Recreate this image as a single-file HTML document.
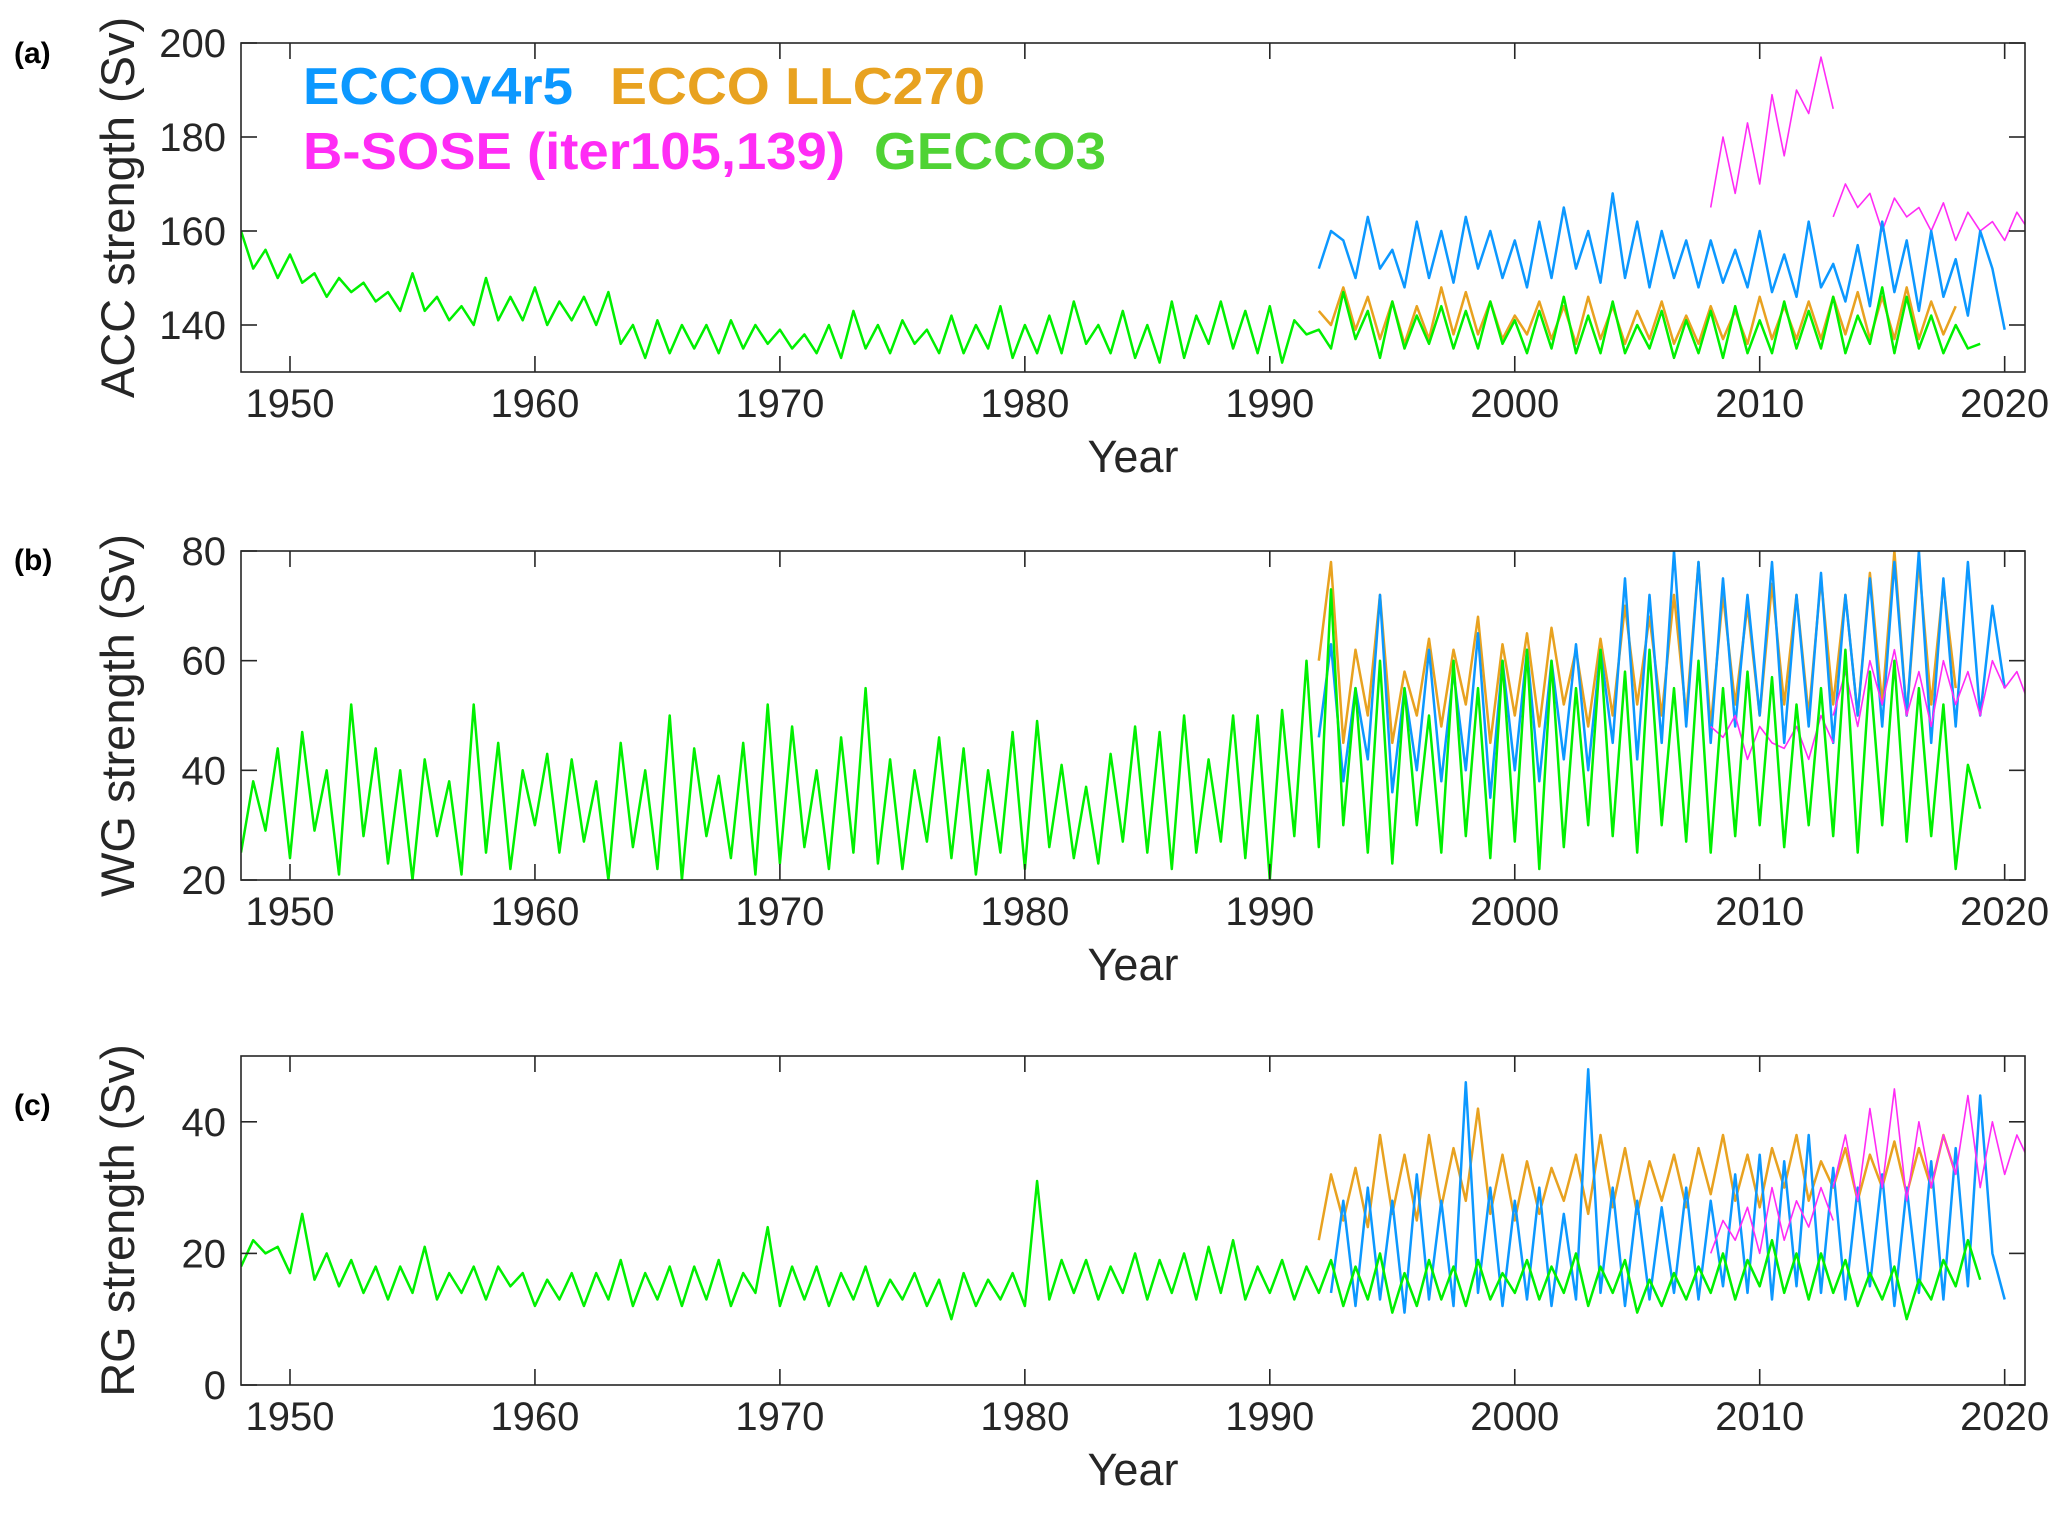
<!DOCTYPE html>
<html><head><meta charset="utf-8">
<style>
html,body{margin:0;padding:0;background:#fff;}
svg{display:block;font-family:"Liberation Sans",Arial,sans-serif;}
</style></head>
<body>
<svg id="chart" width="2067" height="1520" viewBox="0 0 2067 1520" xmlns="http://www.w3.org/2000/svg"></svg>
<script>
// ---------- data (half-year resolution) ----------
const xTicks = [1950,1960,1970,1980,1990,2000,2010,2020];
const accTicks = [140,160,180,200];
const wgTicks = [20,40,60,80];
const rgTicks = [0,20,40];

const accGeccoStart = 1948.0;
const accGecco = [160,152,156,150,155,149,151,146,150,147,149,145,147,143,151,143,146,141,144,140,150,141,146,141,148,140,145,141,146,140,147,136,140,133,141,134,140,135,140,134,141,135,140,136,139,135,138,134,140,133,143,135,140,134,141,136,139,134,142,134,140,135,144,133,140,134,142,134,145,136,140,134,143,133,140,132,145,133,142,136,145,135,143,134,144,132,141,138,139,135,147,137,143,133,145,135,142,136,144,135,143,135,145,136,141,134,143,135,146,134,142,134,145,134,140,135,143,133,141,134,143,133,144,134,141,134,145,135,143,135,146,134,142,136,148,134,146,135,142,134,140,135,136];
const accEccoStart = 1992.0;
const accEcco = [152,160,158,150,163,152,156,148,162,150,160,149,163,152,160,150,158,148,162,150,165,152,160,149,168,150,162,148,160,150,158,148,158,149,156,148,160,147,155,146,162,148,153,145,157,144,162,147,158,143,160,146,154,142,160,152,139];
const accLlcStart = 1992.0;
const accLlc = [143,140,148,139,146,137,145,136,144,137,148,138,147,138,145,137,142,138,145,137,144,136,146,137,144,136,143,137,145,136,142,136,144,137,143,136,146,137,144,137,145,137,146,138,147,137,146,137,148,137,145,138,144];
const accSose105Start = 2008.0;
const accSose105 = [165,180,168,183,170,189,176,190,185,197,186];
const accSose139Start = 2013.0;
const accSose139 = [163,170,165,168,160,167,163,165,160,166,158,164,160,162,158,164,160];

const wgGeccoStart = 1948.0;
const wgGecco = [25,38,29,44,24,47,29,40,21,52,28,44,23,40,20,42,28,38,21,52,25,45,22,40,30,43,25,42,27,38,20,45,26,40,22,50,20,44,28,39,24,45,21,52,23,48,26,40,22,46,25,55,23,42,22,40,27,46,24,44,21,40,25,47,22,49,26,41,24,37,23,43,27,48,25,47,22,50,25,42,27,50,24,50,20,51,28,60,26,73,30,55,25,60,23,55,30,50,25,60,28,55,24,60,27,62,22,60,26,55,30,62,28,58,25,62,30,55,27,60,25,55,28,58,30,57,26,52,30,55,28,62,25,58,30,60,27,55,28,52,22,41,33];
const wgEccoStart = 1992.0;
const wgEcco = [46,63,38,55,42,72,36,55,40,62,38,58,40,65,35,60,40,62,38,60,42,63,40,62,45,75,42,72,45,80,48,78,45,75,48,72,50,78,45,72,48,76,45,72,50,75,48,78,50,80,45,75,48,78,50,70,55];
const wgLlcStart = 1992.0;
const wgLlc = [60,78,45,62,50,72,45,58,50,64,48,62,52,68,45,63,50,65,48,66,52,62,48,64,50,70,52,68,50,72,50,78,48,72,52,70,50,74,52,72,50,75,52,72,50,76,52,80,50,78,52,74,55];
const wgSose105Start = 2008.0;
const wgSose105 = [48,46,50,42,48,45,44,48,42,50,45];
const wgSose139Start = 2013.0;
const wgSose139 = [50,58,48,60,52,62,50,58,48,60,52,58,50,60,55,58,52];

const rgGeccoStart = 1948.0;
const rgGecco = [18,22,20,21,17,26,16,20,15,19,14,18,13,18,14,21,13,17,14,18,13,18,15,17,12,16,13,17,12,17,13,19,12,17,13,18,12,18,13,19,12,17,14,24,12,18,13,18,12,17,13,18,12,16,13,17,12,16,10,17,12,16,13,17,12,31,13,19,14,19,13,18,14,20,13,19,14,20,13,21,14,22,13,18,14,19,13,18,14,19,12,18,13,20,11,17,12,19,13,18,12,19,13,17,14,19,13,18,14,20,12,18,14,19,11,16,12,17,13,18,14,20,13,19,15,22,14,20,13,20,14,19,12,17,13,18,10,16,13,19,15,22,16];
const rgEccoStart = 1992.5;
const rgEcco = [14,28,12,30,13,28,11,32,13,28,12,46,14,30,12,28,13,30,12,26,13,48,14,30,12,28,13,27,14,30,13,28,15,32,14,35,13,34,15,38,14,33,13,30,15,32,12,30,14,34,13,36,15,44,20,13];
const rgLlcStart = 1992.0;
const rgLlc = [22,32,25,33,24,38,26,35,25,38,27,36,28,42,26,35,25,34,26,33,28,35,26,38,27,36,26,34,28,35,27,36,29,38,28,35,27,36,30,38,28,34,30,36,28,35,30,37,29,36,30,38,32];
const rgSose105Start = 2008.0;
const rgSose105 = [20,25,22,27,20,30,22,28,24,30,25];
const rgSose139Start = 2013.0;
const rgSose139 = [30,38,28,42,30,45,28,40,30,38,32,44,30,40,32,38,34];

// ---------- layout ----------
const NS = "http://www.w3.org/2000/svg";
const svg = document.getElementById('chart');
const X0 = 241, X1 = 2025, YEAR0 = 1948.0, YEAR1 = 2020.83;
const STEP = 0.5;
const C_BLUE = "#0c98ff", C_ORANGE = "#e8a220", C_MAG = "#ff2cf5", C_GREEN = "#00f000";
function xs(yr){ return X0 + (yr - YEAR0) / (YEAR1 - YEAR0) * (X1 - X0); }
function mk(tag, attrs, parent){
  const el = document.createElementNS(NS, tag);
  for (const k in attrs) el.setAttribute(k, attrs[k]);
  (parent || svg).appendChild(el);
  return el;
}

const panels = [
  {key:'acc', top:43, bottom:372, ymin:130, ymax:200, ticks:accTicks, label:'ACC strength (Sv)', tag:'(a)', tagY:52,
   series:[[accLlcStart,accLlc,C_ORANGE,2.5,'llc270'],[accSose105Start,accSose105,C_MAG,1.6,'bsose-iter105'],[accSose139Start,accSose139,C_MAG,1.6,'bsose-iter139'],[accEccoStart,accEcco,C_BLUE,2.5,'eccov4r5'],[accGeccoStart,accGecco,C_GREEN,2.5,'gecco3']]},
  {key:'wg', top:551, bottom:880, ymin:20, ymax:80, ticks:wgTicks, label:'WG strength (Sv)', tag:'(b)', tagY:559,
   series:[[wgLlcStart,wgLlc,C_ORANGE,2.5,'llc270'],[wgEccoStart,wgEcco,C_BLUE,2.5,'eccov4r5'],[wgSose105Start,wgSose105,C_MAG,1.6,'bsose-iter105'],[wgSose139Start,wgSose139,C_MAG,1.6,'bsose-iter139'],[wgGeccoStart,wgGecco,C_GREEN,2.5,'gecco3']]},
  {key:'rg', top:1056, bottom:1385, ymin:0, ymax:50, ticks:rgTicks, label:'RG strength (Sv)', tag:'(c)', tagY:1104,
   series:[[rgLlcStart,rgLlc,C_ORANGE,2.5,'llc270'],[rgEccoStart,rgEcco,C_BLUE,2.5,'eccov4r5'],[rgSose105Start,rgSose105,C_MAG,1.6,'bsose-iter105'],[rgSose139Start,rgSose139,C_MAG,1.6,'bsose-iter139'],[rgGeccoStart,rgGecco,C_GREEN,2.5,'gecco3']]}
];

panels.forEach(p => {
  const g = mk('g', {});
  
  
  const ys = v => p.bottom - (v - p.ymin) / (p.ymax - p.ymin) * (p.bottom - p.top);
  const cid = 'clip-' + p.key;
  const cp = mk('clipPath', {id: cid}, g);
  mk('rect', {x: X0, y: p.top, width: X1 - X0, height: p.bottom - p.top}, cp);

  const sg = mk('g', {'clip-path': 'url(#' + cid + ')'}, g);
  p.series.forEach(s => {
    const [start, vals, col, w, nm] = s;
    const pts = vals.map((v, i) => xs(start + i * STEP).toFixed(1) + ',' + ys(v).toFixed(1)).join(' ');
    const pl = mk('polyline', {points: pts, fill: 'none', stroke: col, 'stroke-width': w, 'stroke-linejoin': 'round'}, sg);
    
    
  });

  const box = mk('rect', {x: X0, y: p.top, width: X1 - X0, height: p.bottom - p.top, fill: 'none', stroke: '#262626', 'stroke-width': 1.6}, g);
  
  

  xTicks.forEach(t => {
    const x = xs(t);
    mk('line', {x1: x, x2: x, y1: p.bottom, y2: p.bottom - 16, stroke: '#262626', 'stroke-width': 1.6}, g);
    mk('line', {x1: x, x2: x, y1: p.top, y2: p.top + 16, stroke: '#262626', 'stroke-width': 1.6}, g);
    const tx = mk('text', {x: x, y: p.bottom + 45, 'font-size': 40, 'text-anchor': 'middle', fill: '#262626'}, g);
    tx.textContent = t;
    
    
  });
  p.ticks.forEach(t => {
    const y = ys(t);
    mk('line', {x1: X0, x2: X0 + 16, y1: y, y2: y, stroke: '#262626', 'stroke-width': 1.6}, g);
    mk('line', {x1: X1, x2: X1 - 16, y1: y, y2: y, stroke: '#262626', 'stroke-width': 1.6}, g);
    const ty = mk('text', {x: 226, y: y + 14, 'font-size': 40, 'text-anchor': 'end', fill: '#262626'}, g);
    ty.textContent = t;
    
    
  });
  const xt = mk('text', {x: (X0 + X1) / 2, y: p.bottom + 100, 'font-size': 45, 'text-anchor': 'middle', fill: '#262626'}, g);
  xt.textContent = 'Year';
  
  
  const cy = (p.top + p.bottom) / 2;
  const yt = mk('text', {x: 0, y: 0, 'font-size': 47, 'text-anchor': 'middle', fill: '#262626', transform: 'translate(134,' + cy + ') rotate(-90)'}, g);
  yt.textContent = p.label;
  
  
  const pt = mk('text', {x: 14, y: p.tagY + 11, 'font-size': 30, 'font-weight': 'bold', fill: '#000'}, g);
  pt.textContent = p.tag;
  
  
});

const legend = [
  ['ECCOv4r5', 303, 104, C_BLUE, 270],
  ['ECCO LLC270', 610, 104, C_ORANGE, 375],
  ['B-SOSE (iter105,139)', 303, 169, C_MAG, 542],
  ['GECCO3', 874, 169, '#4fd334', 232]
];
const lg = mk('g', {});


legend.forEach(l => {
  const t = mk('text', {x: l[1], y: l[2], 'font-size': 52, 'font-weight': 'bold', fill: l[3], textLength: l[4], lengthAdjust: 'spacingAndGlyphs'}, lg);
  t.textContent = l[0];
  
  
});
</script>
</body></html>
